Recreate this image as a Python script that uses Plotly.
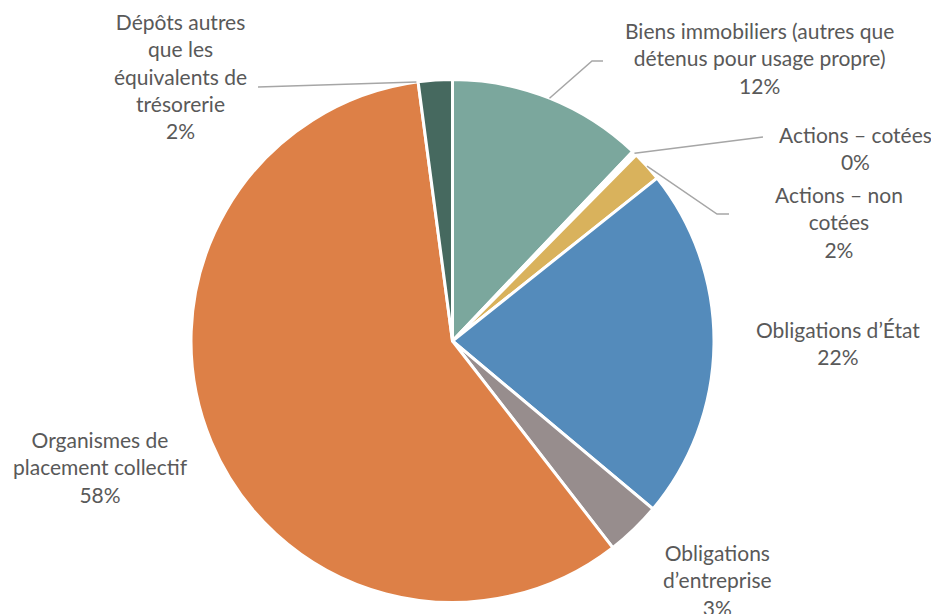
import math
import plotly.graph_objects as go

# ---- data ----
labels = [
    "Biens immobiliers (autres que<br>détenus pour usage propre)",
    "Actions – cotées",
    "Actions – non<br>cotées",
    "Obligations d’État",
    "Obligations<br>d’entreprise",
    "Organismes de<br>placement collectif",
    "Dépôts autres<br>que les<br>équivalents de<br>trésorerie",
]
values = [12.1, 0.3, 1.9, 21.8, 3.4, 58.4, 2.1]
colors = ["#7BA79D", "#FFFFFF", "#D9B25C", "#548BBB", "#978D8D", "#DD8047", "#46695F"]

# ---- layout/style ----
W, H = 931, 614
CX, CY, R = 452.5, 341.0, 261.5
FONT = "Lato"
TXT = "#595959"
LINE = "#A6A6A6"

# label centres (px), leader anchor fraction in slice, leader path after the anchor (px)
label_pos = [(759, 58), (855, 148), (839, 222), (838, 343), (717, 580), (100, 467), (180, 76)]
anchor_frac = [0.5, 0.5, 0.5, None, None, None, -0.05]
leader_path = [
    [(592, 61), (603, 61)],
    [(763, 137)],
    [(717, 214), (729, 214)],
    None, None, None,
    [(258, 87)],
]

fig = go.Figure()
fig.add_trace(go.Pie(
    labels=[l.replace("<br>", " ") for l in labels],
    values=values,
    sort=False,
    direction="clockwise",
    rotation=0,
    marker=dict(colors=colors, line=dict(color="white", width=3)),
    textinfo="none",
    hoverinfo="label+percent",
    showlegend=False,
    domain=dict(x=[(CX - R) / W, (CX + R) / W], y=[(H - CY - R) / H, (H - CY + R) / H]),
))
fig.add_trace(go.Scatter(x=[None], y=[None], showlegend=False, hoverinfo="skip"))

total = sum(values)
cum = 0.0
shapes = []
annotations = []
for i, v in enumerate(values):
    start = cum / total * 360
    width = v / total * 360
    cum += v
    pct = round(v / total * 100)
    annotations.append(dict(
        x=label_pos[i][0], y=label_pos[i][1], xref="x", yref="y",
        text=f"{labels[i]}<br>{pct}%", showarrow=False, align="center",
        xanchor="center", yanchor="middle",
        font=dict(family=FONT, size=21, color=TXT),
    ))
    if anchor_frac[i] is not None:
        ang = math.radians(start + anchor_frac[i] * width)
        pts = [(CX + R * math.sin(ang), CY - R * math.cos(ang))] + leader_path[i]
        path = "M " + " L ".join(f"{x:.1f},{y:.1f}" for x, y in pts)
        shapes.append(dict(type="path", path=path, xref="x", yref="y",
                           line=dict(color=LINE, width=1.5)))

fig.update_layout(
    width=W, height=H,
    margin=dict(l=0, r=0, t=0, b=0),
    paper_bgcolor="white", plot_bgcolor="rgba(0,0,0,0)",
    xaxis=dict(range=[0, W], visible=False, fixedrange=True),
    yaxis=dict(range=[H, 0], visible=False, fixedrange=True),
    shapes=shapes,
    annotations=annotations,
)
fig.write_html("out.html", config={"displayModeBar": False},
               post_script="document.body.style.margin='0';document.body.style.overflow='hidden';")
